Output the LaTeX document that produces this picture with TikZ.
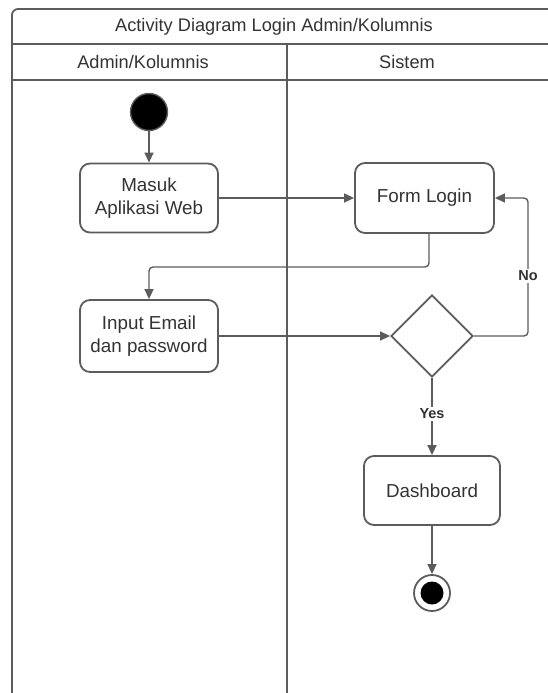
\documentclass[tikz,border=0pt]{standalone}
\usepackage{fontspec}
\setmainfont{Liberation Sans}
\usetikzlibrary{arrows.meta,shapes.geometric}
\definecolor{ln}{HTML}{5C5C5C}
\definecolor{tx}{HTML}{333333}
\begin{document}
\begin{tikzpicture}[x=1pt,y=-1pt,
  frame/.style={draw=ln, line width=1.8pt},
  act/.style={draw=ln, line width=1.8pt, rounded corners=10pt, minimum width=138pt, minimum height=69pt, align=center, text=tx, font=\fontsize{18.8}{23}\selectfont, inner sep=2pt},
  arr/.style={draw=ln, line width=1.4pt, -{Triangle[length=10pt,width=9pt]}},
  lbl/.style={fill=white, text=tx, font=\bfseries\fontsize{14.5}{16}\selectfont, inner sep=1.5pt},
  hdr/.style={text=tx, font=\fontsize{18.2}{21}\selectfont}]
\useasboundingbox (0,0) rectangle (548,693);
\clip (0,0) rectangle (548,693);
% frame
\draw[frame, rounded corners=6pt] (12,705) -- (12,9) -- (565,9);
\draw[frame] (12,44) -- (565,44);
\draw[frame] (12,80) -- (565,80);
\draw[frame] (287,44) -- (287,705);
\node[hdr] (title) at (274,27) {Activity Diagram Login Admin/Kolumnis};
\node[hdr] (laneA) at (143,62) {Admin/Kolumnis};
\node[hdr] (laneB) at (407,62) {Sistem};
% nodes
\node[circle, fill=black, draw=ln, line width=1.4pt, minimum size=37pt, inner sep=0] (start) at (149,112) {};
\node[act] (masuk) at (149,198) {Masuk\\Aplikasi Web};
\node[act, minimum height=72pt] (input) at (149,336) {Input Email\\dan password};
\node[act, minimum width=139pt, minimum height=70pt] (form) at (424.5,198) {Form Login};
\node[diamond, draw=ln, line width=1.8pt, minimum width=82pt, minimum height=82pt, inner sep=0, aspect=1] (dec) at (432,336) {};
\node[act, minimum width=136pt] (dash) at (432,490.5) {Dashboard};
\node[circle, draw=ln, line width=1.8pt, minimum size=36pt, inner sep=0] (end) at (432,593) {};
\node[circle, fill=black, minimum size=23pt, inner sep=0] (endin) at (432,593) {};
% connectors
\coordinate (turn) at (149,267);
\coordinate (noc) at (528,198);
\draw[arr] (start) -- (masuk);
\draw[arr] (masuk.east) -- (form.west);
\draw[arr, rounded corners=4pt] ([xshift=4.5pt]form.south) |- (turn) -- (input.north);
\draw[arr] (input.east) -- (dec.west);
\draw[arr, rounded corners=4pt] (dec.east) -| (noc) -- (form.east);
\node[lbl] (no) at (528,276) {No};
\draw[arr] (dec.south) -- (dash.north);
\node[lbl] (yes) at (432,414) {Yes};
\draw[arr] (dash.south) -- (end.north);
\end{tikzpicture}
\end{document}
